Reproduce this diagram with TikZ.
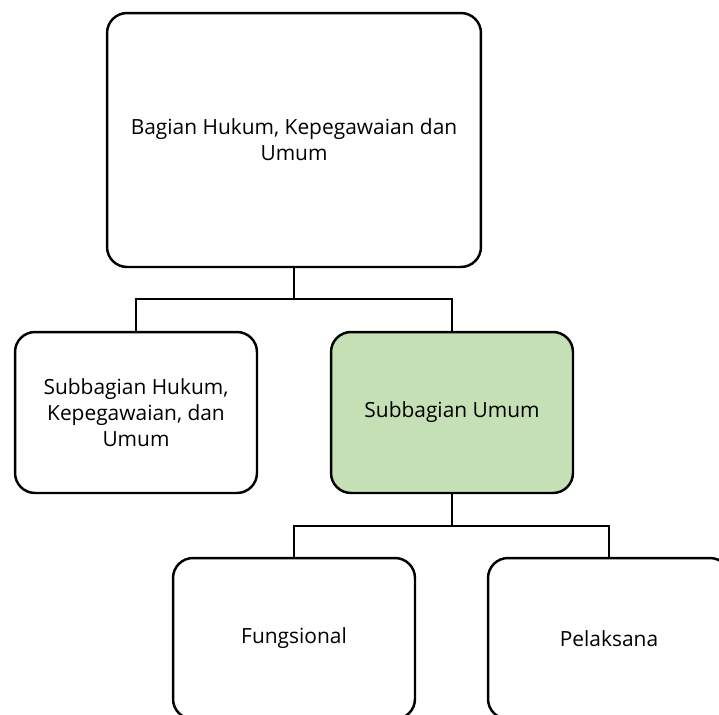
\documentclass[tikz,border=0pt]{standalone}
\usepackage{fontspec}
\setmainfont{Open Sans}
\usepackage{xcolor}
\usepackage{tikz}
\usetikzlibrary{positioning}
\definecolor{sublightgreen}{RGB}{197,224,180}

\begin{document}
\begin{tikzpicture}[x=0.02cm,y=-0.02cm,
    every node/.style={font=\fontsize{11.9}{14.7}\selectfont},
    unitbox/.style={draw,line width=1.4pt,rounded corners=0.4cm,fill=white,
                    minimum width=4.84cm,minimum height=3.22cm,align=center},
    link/.style={line width=1.4pt}]
      \clip (0,0) rectangle (719,714);

      \node[unitbox,minimum width=7.48cm,minimum height=5.08cm]
        (bagian) at (294,140)
        {Bagian Hukum, Kepegawaian dan\\Umum};

      \node[unitbox] (subhk) at (136,412.5)
        {Subbagian Hukum,\\Kepegawaian, dan\\Umum};

      \node[unitbox,fill=sublightgreen] (subumum) at (452,412.5)
        {Subbagian Umum};

      \node[unitbox] (fungsional) at (294,638.5) {Fungsional};
      \node[unitbox] (pelaksana) at (609,638.5) {Pelaksana};

      \coordinate (split1) at (294,299);
      \coordinate (split2) at (452,526);

      \draw[link] (bagian.south) -- (split1);
      \draw[link] (subhk.north) |- (split1) -| (subumum.north);

      \draw[link] (subumum.south) -- (split2);
      \draw[link] (fungsional.north) |- (split2) -| (pelaksana.north);
    \end{tikzpicture}
\end{document}
